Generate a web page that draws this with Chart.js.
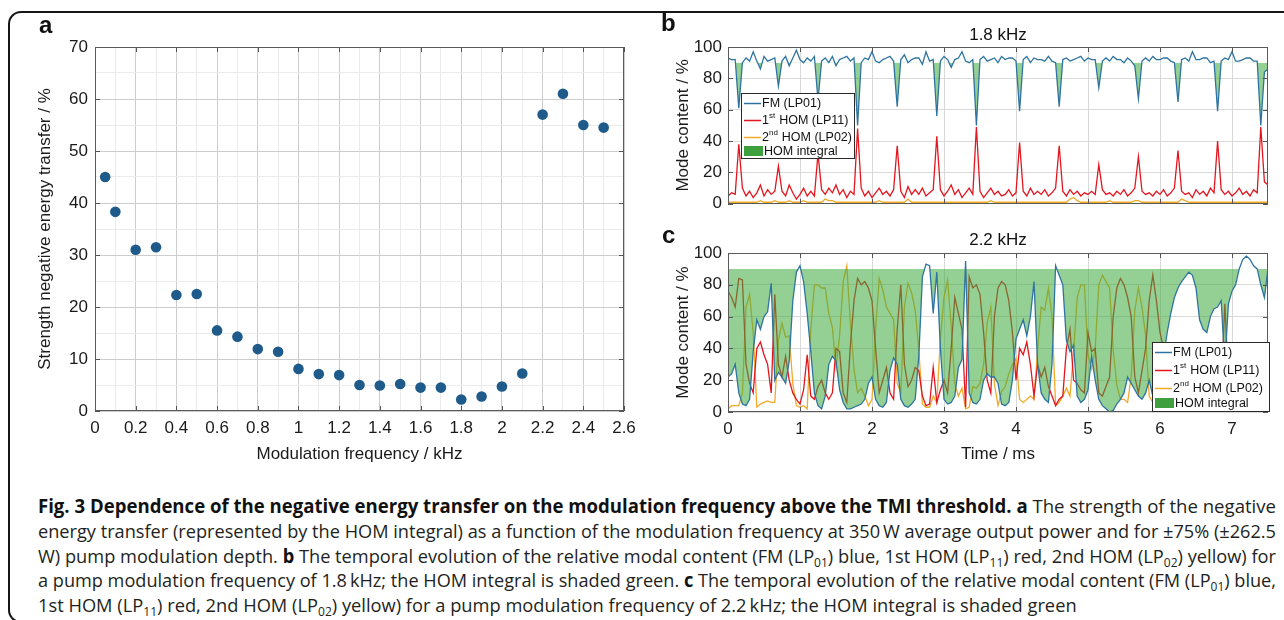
<!DOCTYPE html>
<html><head><meta charset="utf-8">
<script src="https://cdn.jsdelivr.net/npm/chart.js@4.4.1/dist/chart.umd.min.js"></script>
<style>
html,body{margin:0;padding:0;background:#fff;}
body{width:1284px;height:620px;overflow:hidden;position:relative;}
#frame{position:absolute;left:8px;top:11px;width:1320px;height:612px;border:2px solid #161616;border-radius:13px;box-sizing:border-box;}
canvas{position:absolute;}
#ca{left:0;top:0;}
#cb{left:650px;top:0;}
#cc{left:650px;top:220px;}
.plbl{position:absolute;font-family:"Liberation Sans",Arial,sans-serif;font-weight:bold;font-size:24px;line-height:24px;color:#111;}
#caption{position:absolute;left:38px;top:494px;font-family:"Open Sans",sans-serif;font-size:19px;color:#231f20;}
.ln{display:block;white-space:nowrap;width:max-content;height:24.75px;line-height:24.75px;transform-origin:0 50%;}
.ln b{font-weight:700;color:#111;}
.ln sub{font-size:0.66em;vertical-align:-0.3em;line-height:0;}
</style></head>
<body>
<div id="frame"></div>
<canvas id="ca" width="650" height="480"></canvas>
<canvas id="cb" width="634" height="220"></canvas>
<canvas id="cc" width="634" height="250"></canvas>
<div class="plbl" style="left:39px;top:13px;">a</div>
<div class="plbl" style="left:661px;top:11px;">b</div>
<div class="plbl" style="left:662px;top:223px;">c</div>
<div id="caption">
<span class="ln"><b>Fig. 3 Dependence of the negative energy transfer on the modulation frequency above the TMI threshold. a</b> The strength of the negative</span>
<span class="ln">energy transfer (represented by the HOM integral) as a function of the modulation frequency at 350&#8201;W average output power and for ±75% (±262.5</span>
<span class="ln">W) pump modulation depth. <b>b</b> The temporal evolution of the relative modal content (FM (LP<sub>01</sub>) blue, 1st HOM (LP<sub>11</sub>) red, 2nd HOM (LP<sub>02</sub>) yellow) for</span>
<span class="ln">a pump modulation frequency of 1.8&#8201;kHz; the HOM integral is shaded green. <b>c</b> The temporal evolution of the relative modal content (FM (LP<sub>01</sub>) blue,</span>
<span class="ln">1st HOM (LP<sub>11</sub>) red, 2nd HOM (LP<sub>02</sub>) yellow) for a pump modulation frequency of 2.2&#8201;kHz; the HOM integral is shaded green</span>
</div>
<script>
// ---------------- data ----------------
const freqA = [0.05,0.1,0.2,0.3,0.4,0.5,0.6,0.7,0.8,0.9,1.0,1.1,1.2,1.3,1.4,1.5,1.6,1.7,1.8,1.9,2.0,2.1,2.2,2.3,2.4,2.5];
const strengthA = [45,38.3,31,31.5,22.3,22.5,15.5,14.3,11.9,11.4,8.1,7.1,6.9,5.0,4.9,5.2,4.5,4.5,2.2,2.8,4.7,7.2,57,61,55,54.5];

const sampleStepMs = 0.05;
const sampleCount = 151;
const timeMs = Array.from({length: sampleCount}, (_, i) => Math.round(i * sampleStepMs * 100) / 100);

// panel b : 1.8 kHz
const fmB = [93,92,92,61,90,93,91,97,91,86, 94,91,92,93,75,91,94,88,93,98, 92,90,93,91,94,66,91,93,90,94,
  88,92,93,94,91,93,50,90,93,92, 97,91,90,92,93,94,91,62,92,95, 90,92,93,93,89,97,91,92,56,91,
  94,92,87,92,93,97,91,90,92,50, 92,94,91,92,93,90,94,92,93,93, 91,59,92,94,90,93,92,92,91,94,
  91,90,62,92,93,91,92,93,94,91, 93,92,92,74,91,93,91,94,92,92, 90,93,91,88,67,91,93,91,94,92,
  92,93,93,91,90,65,92,93,91,97, 92,92,93,93,90,91,59,91,93,92, 97,91,91,92,93,93,91,91,50,84, 86];
const lp11B = [5,7,6,38,10,5,8,4,7,12, 5,9,6,8,24,8,5,12,7,3, 6,10,5,8,5,32,9,6,10,7,
  12,6,9,4,8,6,48,10,5,8, 4,7,10,6,8,5,9,37,8,4, 11,6,9,6,10,5,7,9,43,9,
  5,8,12,6,9,4,7,10,6,49, 8,4,7,10,6,8,5,6,9,5, 7,39,8,5,10,6,8,6,9,5,
  7,10,37,8,5,9,6,8,5,7, 6,8,6,25,9,6,7,5,8,6, 9,5,7,10,30,8,6,7,5,8,
  6,9,5,7,10,34,8,6,7,4, 9,6,8,5,10,7,40,9,6,8, 5,7,10,6,8,5,9,7,49,14, 12];
const lp02B = [1,1,1,1,1,1,1,1,1,2, 1,1,1,2,1,1,1,2,1,1, 1,2,1,1,1,1,1,3,2,2,
  1,1,1,1,1,1,1,1,1,1, 1,1,2,1,1,1,1,1,1,1, 3,1,1,1,1,1,1,1,1,1,
  1,1,1,1,1,1,1,1,1,1, 1,1,1,2,1,1,1,1,1,1, 1,1,1,1,1,1,1,1,1,1,
  1,1,1,1,1,3,4,2,1,1, 1,1,1,1,1,1,2,1,1,1, 1,1,1,2,2,1,1,1,1,1,
  1,1,1,1,1,1,3,2,1,1, 1,1,1,1,1,1,1,1,1,1, 1,1,1,1,1,1,1,1,1,1, 1];

// panel c : 2.2 kHz
const fmC = [22,24,30,12,5,4,8,38,58,52, 60,63,81,20,25,22,18,32,70,88, 92,82,62,38,12,4,2,10,30,35,
  32,14,6,2,2,3,4,5,8,18, 22,8,4,3,6,26,34,30,8,4, 3,5,8,35,85,93,92,62,88,40,
  8,5,6,10,28,33,95,12,6,5, 8,20,24,22,22,18,5,4,6,20, 46,52,58,48,60,82,30,12,8,6,
  30,92,86,80,45,38,42,10,6,8, 14,35,20,8,4,2,0,1,5,8, 12,22,18,14,10,8,12,20,10,15,
  25,35,50,62,72,78,82,85,88,86, 78,58,52,50,60,65,66,70,30,68, 76,80,90,96,98,96,92,90,80,72, 90];
const lp11C = [76,72,66,84,83,30,18,12,40,44, 36,30,12,74,30,22,35,20,12,8, 5,14,36,10,8,16,20,12,8,12,
  40,38,12,6,42,70,84,80,82,78, 70,40,12,20,28,12,8,52,80,30, 16,20,28,26,10,4,5,28,6,14,
  20,12,40,72,62,52,3,85,78,80, 74,50,20,12,60,78,82,80,70,50, 20,40,36,44,30,10,30,22,28,16,
  10,4,8,10,40,52,20,18,14,12, 50,38,40,12,10,16,22,60,78,84, 80,72,60,22,12,26,40,70,86,70,
  50,40,30,20,16,12,10,8,6,8, 12,20,22,30,20,18,15,12,68,20, 10,8,4,2,1,2,4,5,12,20, 6];
const lp02C = [2,4,4,4,12,66,74,50,3,5, 6,7,6,6,45,56,47,48,18,4, 3,4,2,52,80,80,78,78,62,53,
  28,48,82,92,56,27,12,15,10,4, 8,52,84,77,66,62,58,18,12,66, 81,75,64,39,5,3,3,10,6,46,
  72,83,54,18,10,15,2,3,16,15, 18,30,56,66,18,4,13,16,24,30, 34,8,6,8,10,8,40,66,64,78,
  60,4,6,10,15,10,38,72,80,80, 36,27,40,80,86,82,78,39,17,8, 8,6,22,64,78,66,48,10,6,15,
  25,25,20,18,12,10,8,7,6,6, 10,22,26,20,20,17,19,18,2,12, 14,12,6,2,1,2,4,5,8,8, 4];

const homThreshold = 90;
const legendEntries = [
  {kind:'line',  key:'fm',   parts:[['FM (LP01)',0]]},
  {kind:'line',  key:'lp11', parts:[['1',0],['st',1],[' HOM (LP11)',0]]},
  {kind:'line',  key:'lp02', parts:[['2',0],['nd',1],[' HOM (LP02)',0]]},
  {kind:'patch', key:'hom',  parts:[['HOM integral',0]]}
];

// ---------------- style ----------------
const FONT = '"Liberation Sans", Arial, Helvetica, sans-serif';
const COL = {fm:'#2f74a0', lp11:'#e3161f', lp02:'#f3a928', fill:'rgba(60,170,60,0.55)', hom:'#3e9f3e', dot:'#1f5b8a'};
Chart.defaults.font.family = FONT;
Chart.defaults.color = '#1a1a1a';
Chart.defaults.animation = false;

const isMult = (v, s) => Math.abs(v / s - Math.round(v / s)) < 1e-6;
const fixW = w => s => { s.width = w; };
const fixH = h => s => { s.height = h; };
const xy = (xs, ys) => ys.map((v, i) => ({x: xs[i], y: v}));

function makeDeco(cfg) {
  return {
    id: 'deco',
    afterDatasetsDraw(chart) {
      const ctx = chart.ctx, a = chart.chartArea;
      const xs = chart.scales.x, ys = chart.scales.y;
      ctx.save();
      ctx.strokeStyle = '#555'; ctx.lineWidth = 1;
      ctx.beginPath();
      for (const t of xs.ticks) {
        if (!isMult(t.value, cfg.xMajor)) continue;
        const p = Math.round(xs.getPixelForValue(t.value)) + 0.5;
        ctx.moveTo(p, a.bottom); ctx.lineTo(p, a.bottom - cfg.tickLen);
        ctx.moveTo(p, a.top); ctx.lineTo(p, a.top + cfg.tickLen);
      }
      for (const t of ys.ticks) {
        if (!isMult(t.value, cfg.yMajor)) continue;
        const p = Math.round(ys.getPixelForValue(t.value)) + 0.5;
        ctx.moveTo(a.left, p); ctx.lineTo(a.left + cfg.tickLen, p);
        ctx.moveTo(a.right, p); ctx.lineTo(a.right - cfg.tickLen, p);
      }
      ctx.stroke();
      ctx.strokeStyle = '#5a5a5a';
      ctx.strokeRect(Math.round(a.left) + 0.5, Math.round(a.top) + 0.5, Math.round(a.right - a.left) - 1, Math.round(a.bottom - a.top) - 1);
      if (cfg.title) {
        ctx.fillStyle = '#111'; ctx.font = '17px ' + FONT;
        ctx.textAlign = 'center'; ctx.textBaseline = 'middle';
        ctx.fillText(cfg.title, (a.left + a.right) / 2, a.top - cfg.titleDy);
      }
      if (cfg.legend) {
        const L = cfg.legend;
        const x0 = Math.round(L.fromRight ? a.right + L.dx - L.w : a.left + L.dx);
        const y0 = Math.round(a.top + L.dy);
        ctx.fillStyle = '#fff'; ctx.fillRect(x0, y0, L.w, L.h);
        ctx.strokeStyle = '#2a2a2a'; ctx.lineWidth = 1;
        ctx.strokeRect(x0 + 0.5, y0 + 0.5, L.w - 1, L.h - 1);
        legendEntries.forEach((e, i) => {
          const cy = y0 + L.rows[i];
          if (e.kind === 'line') {
            ctx.strokeStyle = COL[e.key]; ctx.lineWidth = 1.5;
            ctx.beginPath(); ctx.moveTo(x0 + 3, cy + 0.5); ctx.lineTo(x0 + 20, cy + 0.5); ctx.stroke();
          } else {
            ctx.fillStyle = COL[e.key]; ctx.fillRect(x0 + 3, cy - 5, 19, 10);
          }
          let tx = x0 + (e.kind === 'line' ? 21 : 23);
          ctx.fillStyle = '#111'; ctx.textAlign = 'left'; ctx.textBaseline = 'middle';
          for (const [s, sup] of e.parts) {
            ctx.font = (sup ? '8px ' : '12.5px ') + FONT;
            ctx.fillText(s, tx, sup ? cy - 4 : cy + 0.5);
            tx += ctx.measureText(s).width + (sup ? 0.5 : 0);
          }
        });
      }
      ctx.restore();
    }
  };
}

// ---------------- panel a ----------------
new Chart(document.getElementById('ca'), {
  type: 'scatter',
  data: {datasets: [{data: xy(freqA, strengthA), pointRadius: 5.3, pointHoverRadius: 5.3,
    pointBackgroundColor: COL.dot, pointBorderColor: COL.dot, pointBorderWidth: 0}]},
  options: {
    responsive: false, animation: false, events: [],
    layout: {padding: {left: 0, right: 26, top: 47, bottom: 0}},
    plugins: {legend: {display: false}, tooltip: {enabled: false}},
    scales: {
      x: {type: 'linear', min: 0, max: 2.6, afterFit: fixH(69),
        ticks: {stepSize: 0.1, autoSkip: false, maxRotation: 0, minRotation: 0, includeBounds: false, padding: 7,
          font: {size: 17}, callback: v => isMult(v, 0.2) ? String(Math.round(v * 10) / 10) : ''},
        grid: {drawTicks: false, lineWidth: 1, color: c => (c.tick && isMult(c.tick.value, 0.2)) ? '#cdcdcd' : '#ebebeb'},
        border: {display: false},
        title: {display: true, text: 'Modulation frequency / kHz', font: {size: 17}, padding: {top: 0, bottom: 15}}},
      y: {type: 'linear', min: 0, max: 70, afterFit: fixW(95),
        ticks: {stepSize: 5, autoSkip: false, includeBounds: false, padding: 7, font: {size: 17},
          callback: v => isMult(v, 10) ? String(v) : ''},
        grid: {drawTicks: false, lineWidth: 1, color: c => (c.tick && isMult(c.tick.value, 10)) ? '#cdcdcd' : '#ebebeb'},
        border: {display: false},
        title: {display: true, text: 'Strength negative energy transfer / %', font: {size: 17}, padding: {top: 35, bottom: 0}}}
    }
  },
  plugins: [makeDeco({xMajor: 0.2, yMajor: 10, tickLen: 5})]
});

// ---------------- panels b, c ----------------
function modeDatasets(fm, lp11, lp02) {
  return [
    {data: xy(timeMs, fm), borderColor: COL.fm, borderWidth: 1.3, pointRadius: 0, order: 0,
      fill: {target: {value: homThreshold}, above: 'rgba(0,0,0,0)', below: COL.fill}},
    {data: xy(timeMs, lp11), borderColor: COL.lp11, borderWidth: 1.3, pointRadius: 0, order: 1, fill: false},
    {data: xy(timeMs, lp02), borderColor: COL.lp02, borderWidth: 1.3, pointRadius: 0, order: 2, fill: false}
  ];
}
function modeOptions(showX, padTop, xHeight, xTitlePad) {
  return {
    responsive: false, animation: false, events: [],
    layout: {padding: {left: 0, right: 16, top: padTop, bottom: 0}},
    plugins: {legend: {display: false}, tooltip: {enabled: false}, filler: {drawTime: 'beforeDatasetDraw'}},
    elements: {line: {tension: 0}},
    scales: {
      x: {type: 'linear', min: 0, max: 7.5, afterFit: fixH(xHeight),
        ticks: {display: showX, stepSize: 1, includeBounds: false, autoSkip: false, maxRotation: 0, padding: 7, font: {size: 17}},
        grid: {drawTicks: false, color: '#d9d9d9'},
        border: {display: false},
        title: {display: showX, text: 'Time / ms', font: {size: 17}, padding: {top: 0, bottom: xTitlePad}}},
      y: {type: 'linear', min: 0, max: 100, afterFit: fixW(78),
        ticks: {stepSize: 20, includeBounds: false, padding: 6, font: {size: 17}},
        grid: {drawTicks: false, color: '#d9d9d9'},
        border: {display: false},
        title: {display: true, text: 'Mode content / %', font: {size: 17}, padding: {top: 23, bottom: 0}}}
    }
  };
}

new Chart(document.getElementById('cb'), {
  type: 'line',
  data: {datasets: modeDatasets(fmB, lp11B, lp02B)},
  options: modeOptions(false, 47, 11, 0),
  plugins: [makeDeco({xMajor: 1, yMajor: 20, tickLen: 5, title: '1.8 kHz', titleDy: 12,
    legend: {fromRight: false, dx: 13, dy: 46, w: 114, h: 66, rows: [10, 27, 44, 58]}})]
});

new Chart(document.getElementById('cc'), {
  type: 'line',
  data: {datasets: modeDatasets(fmC, lp11C, lp02C)},
  options: modeOptions(true, 33, 58, 5),
  plugins: [makeDeco({xMajor: 1, yMajor: 20, tickLen: 5, title: '2.2 kHz', titleDy: 12.5,
    legend: {fromRight: true, dx: 2, dy: 89, w: 118, h: 70, rows: [10, 28, 46, 61]}})]
});

// ---------------- caption fitting ----------------
function fitCaption() {
  const lines = Array.from(document.querySelectorAll('#caption .ln'));
  const target = 1238;
  lines.forEach(l => l.style.transform = 'none');
  const widths = lines.map(l => l.getBoundingClientRect().width);
  const sc = widths.slice(0, 4).map(w => target / w);
  const avg = sc.reduce((s, v) => s + v, 0) / sc.length;
  lines.forEach((l, i) => { l.style.transform = 'scaleX(' + (i < 4 ? sc[i] : avg) + ')'; });
}
fitCaption();
if (document.fonts && document.fonts.ready) document.fonts.ready.then(fitCaption);
</script>
</body></html>
